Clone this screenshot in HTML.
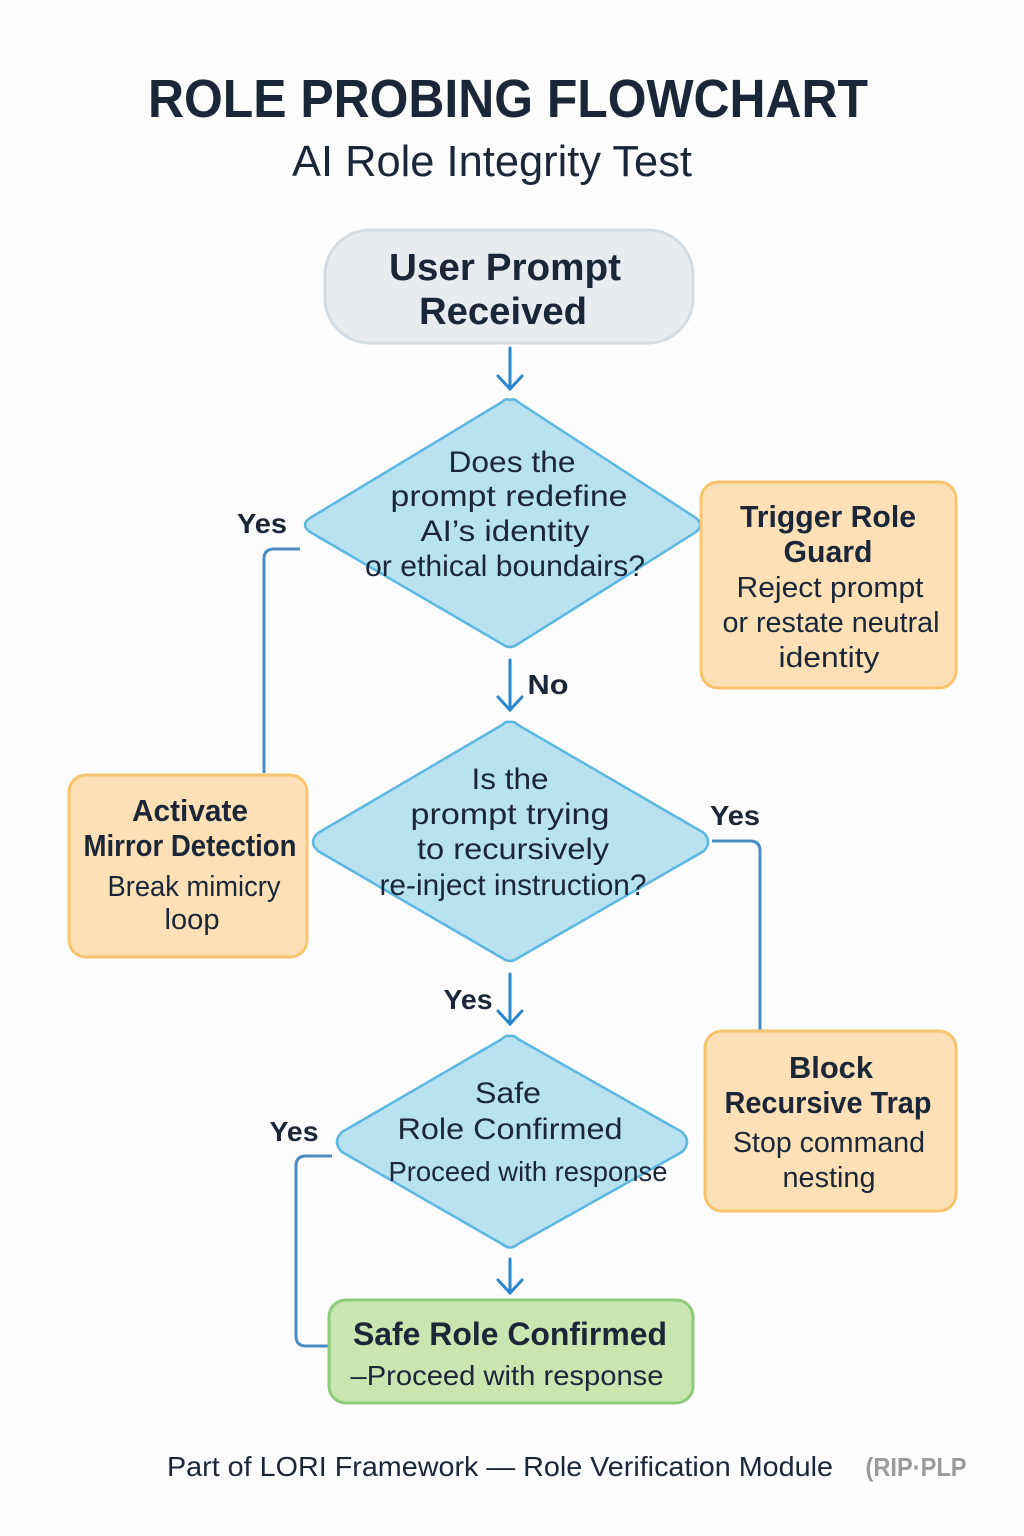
<!DOCTYPE html>
<html><head><meta charset="utf-8"><style>
html,body{margin:0;padding:0;background:#fdfdfd;}
svg{display:block;font-family:"Liberation Sans",sans-serif;}
</style></head><body>
<svg width="1024" height="1536" viewBox="0 0 1024 1536" xmlns="http://www.w3.org/2000/svg">
<rect width="1024" height="1536" fill="#fdfdfd"/>
<g fill="#1b2638" text-anchor="middle">
<text x="508" y="117" font-size="54" font-weight="bold" textLength="720" lengthAdjust="spacingAndGlyphs">ROLE PROBING FLOWCHART</text>
<text x="492" y="176" font-size="44" textLength="400" lengthAdjust="spacingAndGlyphs">AI Role Integrity Test</text>
</g>
<!-- start box -->
<rect x="325" y="230" width="368" height="113" rx="45" fill="#e8ecef" stroke="#d3dce2" stroke-width="3"/>
<g fill="#1b2638" text-anchor="middle" font-weight="bold" font-size="38">
<text x="505" y="280" textLength="232" lengthAdjust="spacingAndGlyphs">User Prompt</text>
<text x="503" y="324" textLength="168" lengthAdjust="spacingAndGlyphs">Received</text>
</g>
<!-- arrows -->
<g stroke="#2a86cf" stroke-width="3" fill="none" stroke-linecap="round">
<path d="M510 348 V389 M498 376 L510 389 L522 376"/>
<path d="M510 660 V710 M498 697 L510 710 L522 697"/>
<path d="M510 974 V1024 M498 1011 L510 1024 L522 1011"/>
<path d="M510 1259 V1293 M498 1280 L510 1293 L522 1280"/>
</g>
<!-- connectors -->
<g stroke="#4a8cc4" stroke-width="3" fill="none">
<path d="M300 549 H274 Q264 549 264 559 V773"/>
<path d="M712 841 H750 Q760 841 760 851 V1030"/>
<path d="M332 1156 H306 Q296 1156 296 1166 V1336 Q296 1346 306 1346 H328"/>
</g>
<!-- diamonds -->
<g fill="#b9e2f0" stroke="#5cb7e0" stroke-width="2.5" stroke-linejoin="round">
<path d="M510 400 Q514 398 518 402 L696 518 Q704 525 696 532 L518 644 Q510 650 502 644 L310 532 Q300 525 310 518 L502 402 Q506 398 510 400 Z"/>
<path d="M510 722 Q514 721 518 725 L704 833 Q712 842 704 851 L518 958 Q510 964 502 958 L318 851 Q308 842 318 833 L502 725 Q506 721 510 722 Z"/>
<path d="M510 1036 Q514 1035 518 1039 L682 1132 Q692 1142 682 1152 L518 1244 Q510 1251 502 1244 L342 1152 Q332 1142 342 1132 L502 1039 Q506 1035 510 1036 Z"/>
</g>
<!-- boxes -->
<rect x="701" y="482" width="255" height="206" rx="17" fill="#fde0b5" stroke="#f8c36e" stroke-width="3"/>
<rect x="69" y="775" width="238" height="182" rx="17" fill="#fde0b5" stroke="#f8c36e" stroke-width="3"/>
<rect x="705" y="1031" width="251" height="180" rx="17" fill="#fde0b5" stroke="#f8c36e" stroke-width="3"/>
<rect x="329" y="1300" width="364" height="103" rx="17" fill="#c8e6b0" stroke="#8ccc78" stroke-width="3"/>
<g fill="#1b2638" text-anchor="middle" font-size="30">
<text x="512" y="472" textLength="127" lengthAdjust="spacingAndGlyphs">Does the</text>
<text x="509" y="506" textLength="237" lengthAdjust="spacingAndGlyphs">prompt redefine</text>
<text x="505" y="541" textLength="169" lengthAdjust="spacingAndGlyphs">AI’s identity</text>
<text x="505" y="576" textLength="280" lengthAdjust="spacingAndGlyphs">or ethical boundairs?</text>

<text x="510" y="789" textLength="77" lengthAdjust="spacingAndGlyphs">Is the</text>
<text x="510" y="824" textLength="199" lengthAdjust="spacingAndGlyphs">prompt trying</text>
<text x="513" y="859" textLength="192" lengthAdjust="spacingAndGlyphs">to recursively</text>
<text x="513" y="895" textLength="267" lengthAdjust="spacingAndGlyphs">re-inject instruction?</text>

<text x="508" y="1103" textLength="66" lengthAdjust="spacingAndGlyphs">Safe</text>
<text x="510" y="1139" textLength="225" lengthAdjust="spacingAndGlyphs">Role Confirmed</text>
<text x="528" y="1181" font-size="28" textLength="279" lengthAdjust="spacingAndGlyphs">Proceed with response</text>

<g font-weight="bold" font-size="31">
<text x="828" y="527" textLength="176" lengthAdjust="spacingAndGlyphs">Trigger Role</text>
<text x="828" y="562" textLength="89" lengthAdjust="spacingAndGlyphs">Guard</text>
<text x="190" y="821" textLength="116" lengthAdjust="spacingAndGlyphs">Activate</text>
<text x="190" y="856" textLength="213" lengthAdjust="spacingAndGlyphs">Mirror Detection</text>
<text x="831" y="1078" textLength="84" lengthAdjust="spacingAndGlyphs">Block</text>
<text x="828" y="1113" textLength="207" lengthAdjust="spacingAndGlyphs">Recursive Trap</text>
<text x="510" y="1345" font-size="32" textLength="314" lengthAdjust="spacingAndGlyphs">Safe Role Confirmed</text>
<text x="262" y="533" font-size="28" textLength="50" lengthAdjust="spacingAndGlyphs">Yes</text>
<text x="548" y="694" font-size="28" textLength="41" lengthAdjust="spacingAndGlyphs">No</text>
<text x="735" y="825" font-size="28" textLength="50" lengthAdjust="spacingAndGlyphs">Yes</text>
<text x="468" y="1009" font-size="28" textLength="49" lengthAdjust="spacingAndGlyphs">Yes</text>
<text x="294" y="1141" font-size="28" textLength="49" lengthAdjust="spacingAndGlyphs">Yes</text>
</g>
<g font-size="29">
<text x="830" y="597" textLength="187" lengthAdjust="spacingAndGlyphs">Reject prompt</text>
<text x="831" y="632" textLength="217" lengthAdjust="spacingAndGlyphs">or restate neutral</text>
<text x="829" y="667" textLength="101" lengthAdjust="spacingAndGlyphs">identity</text>
<text x="194" y="896" textLength="173" lengthAdjust="spacingAndGlyphs">Break mimicry</text>
<text x="192" y="929" textLength="55" lengthAdjust="spacingAndGlyphs">loop</text>
<text x="829" y="1152" textLength="192" lengthAdjust="spacingAndGlyphs">Stop command</text>
<text x="829" y="1187" textLength="93" lengthAdjust="spacingAndGlyphs">nesting</text>
<text x="507" y="1385" font-size="28" textLength="313" lengthAdjust="spacingAndGlyphs">–Proceed with response</text>
</g>
<text x="500" y="1476" font-size="28" textLength="666" lengthAdjust="spacingAndGlyphs">Part of LORI Framework — Role Verification Module</text>
<text x="916" y="1476" font-size="26" font-weight="bold" fill="#9a9a9a" textLength="101" lengthAdjust="spacingAndGlyphs">(RIP·PLP</text>
</g>
</svg>
</body></html>
